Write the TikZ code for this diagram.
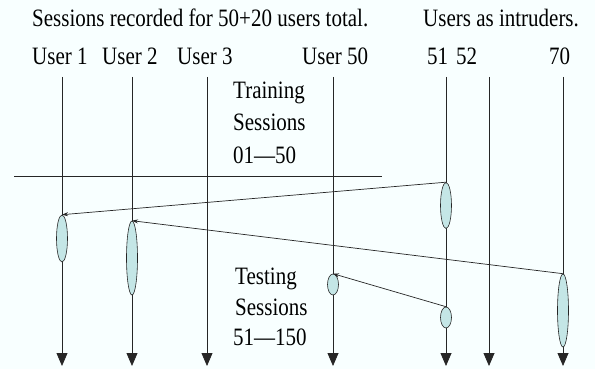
\documentclass[tikz,border=0pt]{standalone}
\usepackage{fontspec}
\setmainfont[FakeStretch=0.84]{Liberation Serif}
\usetikzlibrary{shapes.geometric,arrows.meta}
\definecolor{paper}{RGB}{248,255,255}
\definecolor{sessionfill}{RGB}{196,230,230}
\tikzset{
  lbl/.style={anchor=base west, inner sep=0pt, font=\fontsize{25}{29}\selectfont},
  lifeline/.style={draw=black!85, line width=0.8pt, -{Triangle[width=11pt,length=13pt]}},
  session/.style={ellipse, draw=black!85, line width=0.6pt, fill=sessionfill,
    minimum width=11pt, inner sep=0pt},
  handoff/.style={draw=black!85, line width=0.7pt, -{Stealth[length=6pt,width=4pt]}},
}
\begin{document}
\begin{tikzpicture}[x=1pt,y=-1pt]
\useasboundingbox[fill=paper] (0,0) rectangle (595,369);

% headings
\node[lbl] (title) at (32,27) {Sessions recorded for 50+20 users total.};
\node[lbl] (intr) at (423,27) {Users as intruders.};
\node[lbl] (u1) at (32,65) {User 1};
\node[lbl] (u2) at (102,65) {User 2};
\node[lbl] (u3) at (177,65) {User 3};
\node[lbl] (u50) at (302,65) {User 50};
\node[lbl] (u51) at (427,65) {51};
\node[lbl] (u52) at (456,65) {52};
\node[lbl] (u70) at (549,65) {70};

% phase labels
\node[lbl] (tr1) at (233,99) {Training};
\node[lbl] (tr2) at (233,131) {Sessions};
\node[lbl] (tr3) at (233,163) {01---50};
\node[lbl] (te1) at (235,284) {Testing};
\node[lbl] (te2) at (235,315) {Sessions};
\node[lbl] (te3) at (233,345) {51---150};

% lifeline ends
\foreach \n/\x in {a/62,b/132,c/207,d/333,e/446,f/489,g/563}{
  \coordinate (top\n) at (\x,77);
  \coordinate (bot\n) at (\x,366);
}
\foreach \n in {a,b,c,d,e,f,g}{
  \draw[lifeline] (top\n) -- (bot\n);
}

% training / testing divider
\coordinate (divL) at (14,176);
\coordinate (divR) at (382,176);
\draw[black!85, line width=0.8pt] (divL) -- (divR);

% sessions
\node[session, minimum height=46pt] (s51a) at (446,205.5) {};
\node[session, minimum height=47pt] (s1) at (62,238.5) {};
\node[session, minimum height=74pt] (s2) at (132,258) {};
\node[session, minimum height=21pt] (s50) at (333,284.5) {};
\node[session, minimum height=21pt] (s51b) at (446,317.5) {};
\node[session, minimum height=73pt] (s70) at (563,310.5) {};

% intruder sessions tested against user models
\draw[handoff] (s51a.north) -- (s1.north);
\draw[handoff] (s70.north) -- (s2.north);
\draw[handoff] (s51b.north) -- (s50.north);
\end{tikzpicture}
\end{document}
